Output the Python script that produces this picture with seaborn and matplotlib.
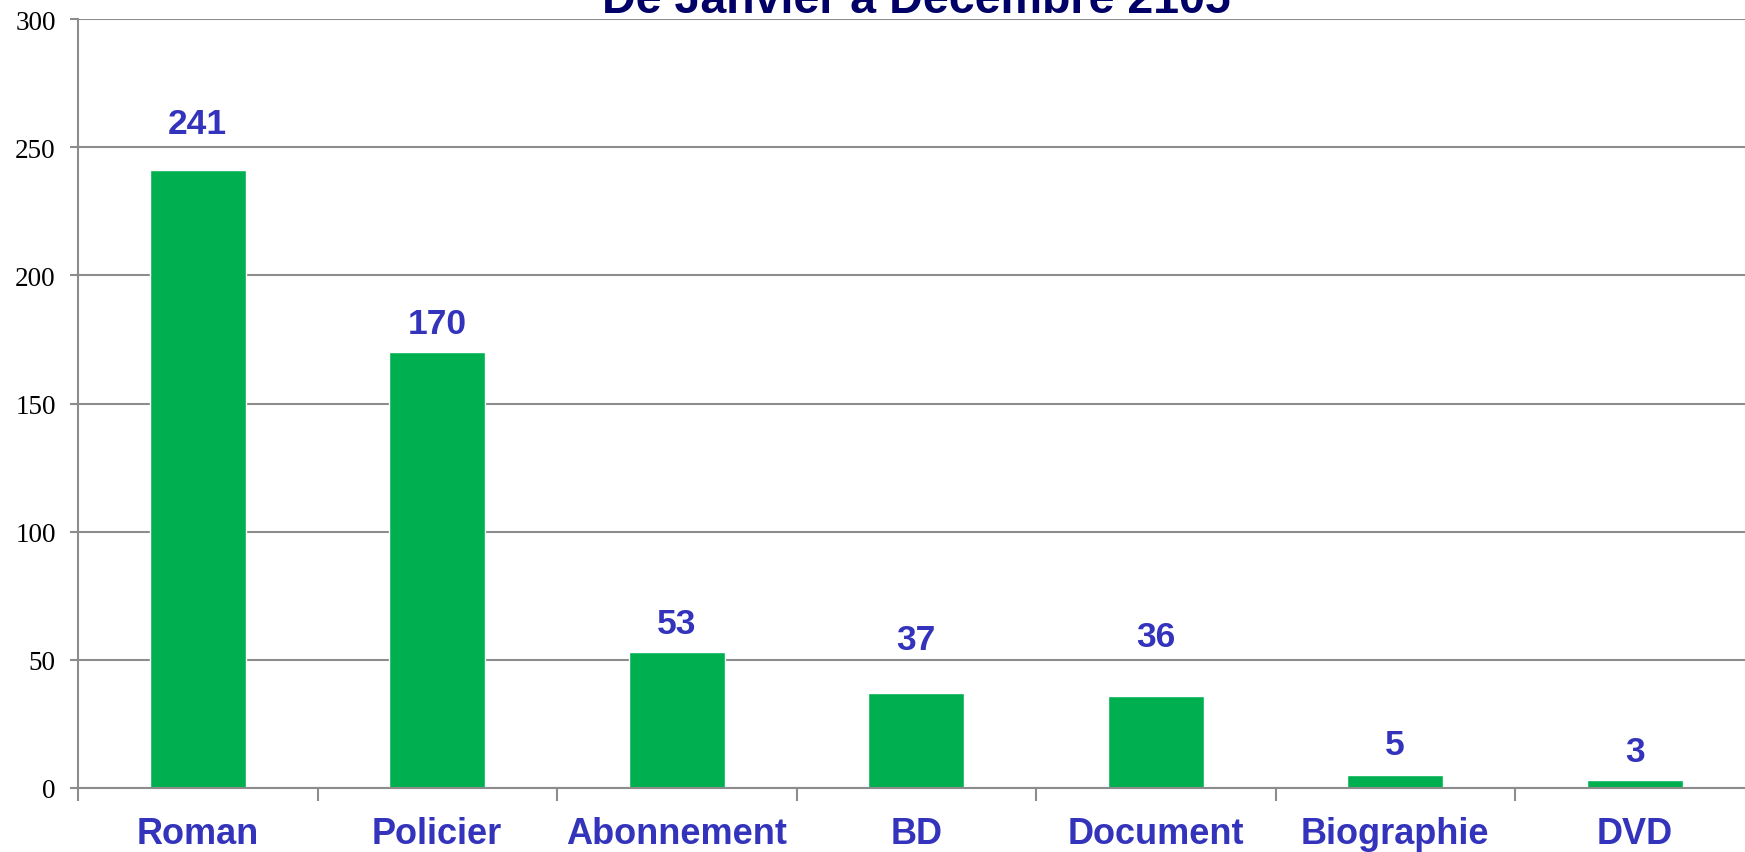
import matplotlib
matplotlib.use("Agg")
import matplotlib.pyplot as plt
import seaborn as sns
import numpy as np

categories = ["Roman", "Policier", "Abonnement", "BD", "Document", "Biographie", "DVD"]
values = [241, 170, 53, 37, 36, 5, 3]
label_offsets_pt = [27, 14, 14, 32, 36, 15, 14]
yticks = [0, 50, 100, 150, 200, 250, 300]
title = "De Janvier à Décembre 2105"

W, H = 1745, 853
sns.set_theme(style="white")
plt.rcParams['font.family'] = ['Liberation Sans', 'DejaVu Sans']

fig = plt.figure(figsize=(W / 100, H / 100), dpi=100)
ax = fig.add_axes([78 / W, 64 / H, 1676.5 / W, 769 / H])

sns.barplot(x=categories, y=values, color="#00B050", saturation=1, width=0.4, ax=ax, zorder=3)

ax.set_ylim(0, 300)
ax.set_xlim(-0.5, len(categories) - 0.5)
ax.set_yticks(yticks)
ax.set_yticklabels([str(v) for v in yticks], family="Liberation Serif", fontsize=19.5, color="black")
ax.yaxis.grid(True, color="#8c8c8c", linewidth=1.5, zorder=0)
ax.tick_params(axis="y", length=6, width=1.5, color="#8c8c8c", pad=10, left=True)

ax.set_xticks(range(len(categories)))
ax.set_xticklabels(categories, fontsize=26, fontweight="bold", color="#3333BB")
ax.tick_params(axis="x", which="major", length=0, pad=20.5)
ax.set_xticks(np.arange(-0.5, len(categories), 1), minor=True)
ax.tick_params(axis="x", which="minor", length=9, width=1.5, color="#8c8c8c", bottom=True)
ax.set_xlabel("")
ax.set_ylabel("")

for s in ["top", "right"]:
    ax.spines[s].set_visible(False)
for s in ["left", "bottom"]:
    ax.spines[s].set_color("#8c8c8c")
    ax.spines[s].set_linewidth(1.5)
    ax.spines[s].set_zorder(4)

for i, (v, off) in enumerate(zip(values, label_offsets_pt)):
    ax.annotate(str(v), (i, v), xytext=(0, off), textcoords="offset points",
                ha="center", va="baseline", fontsize=25.5, fontweight="bold", color="#3333BB")

ax.set_title(title, fontsize=33.5, fontweight="bold", color="#000066", pad=5)

fig.savefig("out.png", dpi=100)
